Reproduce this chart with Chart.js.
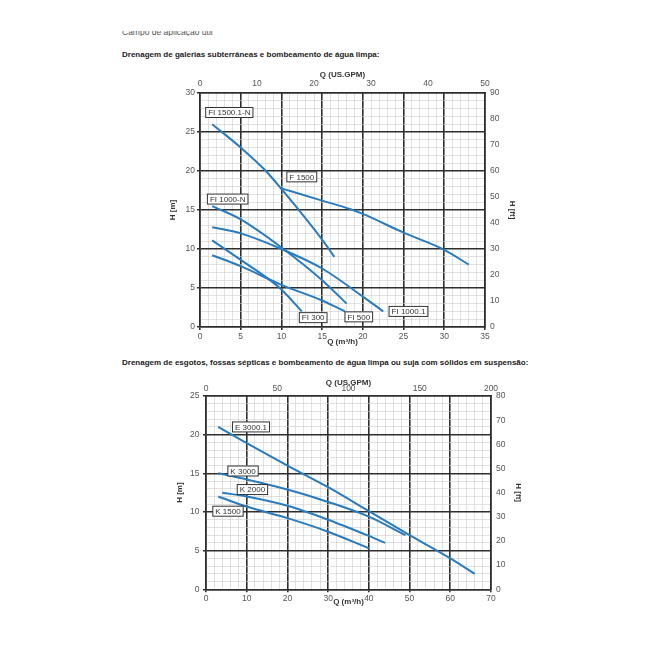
<!DOCTYPE html>
<html><head><meta charset="utf-8">
<script src="https://cdn.jsdelivr.net/npm/chart.js@4.4.1/dist/chart.umd.min.js"></script>
<style>
html,body{margin:0;padding:0;background:#fff;}
body{width:660px;height:660px;position:relative;overflow:hidden;font-family:"Liberation Sans",Arial,sans-serif;}
.t{position:absolute;left:122px;font-weight:bold;font-size:8px;line-height:10px;color:#222;white-space:nowrap;}
.cut{position:absolute;left:122px;top:31px;height:5px;overflow:hidden;font-size:8.5px;line-height:10px;color:#555;white-space:nowrap;}
.cut span{position:relative;top:-4px;}
canvas{position:absolute;}
</style></head><body>
<div class="cut"><span>Campo de aplicação útil</span></div>
<div class="t" style="top:50px">Drenagem de galerias subterrâneas e bombeamento de água limpa:</div>
<div class="t" style="top:358px">Drenagem de esgotos, fossas sépticas e bombeamento de água limpa ou suja com sólidos em suspensão:</div>
<canvas id="c1" width="400" height="290" style="left:130px;top:60px"></canvas>
<canvas id="c2" width="400" height="245" style="left:130px;top:370px"></canvas>
<script>
// ---- Chart 1: Drenagem de galerias (Q m³/h, H m) ----
const q_FI1500_1N = [1.5, 5, 8, 10, 15, 16.5];
const h_FI1500_1N = [26, 23, 20.1, 17.7, 11.2, 9];
const q_F1500 = [9.9, 15, 18.5, 20, 25, 30, 33];
const h_F1500 = [17.8, 16.2, 15.1, 14.5, 12.1, 9.9, 8];
const q_FI1000N = [1.5, 5, 10, 15, 18];
const h_FI1000N = [15.5, 13.8, 10.2, 6.0, 3.0];
const q_FI1000_1 = [1.5, 5, 10, 15, 20, 22.5];
const h_FI1000_1 = [12.8, 12.0, 10.0, 7.5, 3.9, 2.0];
const q_FI300 = [1.5, 5, 8.8, 10, 12.5];
const h_FI300 = [11.1, 8.6, 5.85, 4.8, 2.0];
const q_FI500 = [1.5, 5, 10, 15, 17.8];
const h_FI500 = [9.2, 7.8, 5.4, 3.4, 2.0];
const labels1 = ['FI 1500.1-N', 'F 1500', 'FI 1000-N', 'FI 300', 'FI 500', 'FI 1000.1'];
const labels1Q = [3.6, 12.5, 3.4, 13.9, 19.5, 25.6];
const labels1H = [27.5, 19.25, 16.4, 1.2, 1.3, 2.0];

// ---- Chart 2: Drenagem de esgotos ----
const q_E3000_1 = [3, 10, 20, 30, 40, 50, 60, 66];
const h_E3000_1 = [21, 18.9, 16.0, 13.2, 10.1, 7.0, 4.0, 2.0];
const q_K3000 = [3, 10, 20, 30, 40, 49];
const h_K3000 = [15, 14.2, 12.9, 11.3, 9.4, 7.0];
const q_K2000 = [4, 10, 20, 30, 40, 44];
const h_K2000 = [12.5, 12.0, 10.8, 9.0, 6.9, 6.0];
const q_K1500 = [3, 10, 20, 30, 40];
const h_K1500 = [12, 10.7, 9.2, 7.45, 5.3];
const labels2 = ['E 3000.1', 'K 3000', 'K 2000', 'K 1500'];
const labels2Q = [11.05, 9.1, 11.4, 5.4];
const labels2H = [21.0, 15.3, 12.9, 10.1];

const BLUE = '#2a7bbd';
const MAJ = '#2e2e2e';
const MIN = '#cccccc';
const FONT = '"Liberation Sans", Arial, sans-serif';
Chart.defaults.font.family = FONT;

function pts(q, h) { return q.map((v, i) => ({x: v, y: h[i]})); }
function ds(q, h) {
  return {data: pts(q, h), borderColor: BLUE, borderWidth: 2, pointRadius: 0,
          showLine: true, fill: false, cubicInterpolationMode: 'monotone'};
}

const boxLabels = {
  id: 'boxLabels',
  afterDatasetsDraw(chart, args, o) {
    const {ctx} = chart; const x = chart.scales.x, y = chart.scales.y;
    ctx.save();
    ctx.font = '8px ' + FONT;
    ctx.textAlign = 'center'; ctx.textBaseline = 'middle';
    o.text.forEach((t, i) => {
      const px = x.getPixelForValue(o.q[i]), py = y.getPixelForValue(o.h[i]);
      const w = ctx.measureText(t).width + 5, hh = 10;
      ctx.fillStyle = '#fff'; ctx.fillRect(px - w / 2, py - hh / 2, w, hh);
      ctx.strokeStyle = '#333'; ctx.lineWidth = 1; ctx.strokeRect(px - w / 2, py - hh / 2, w, hh);
      ctx.fillStyle = '#333'; ctx.fillText(t, px, py + 0.5);
    });
    ctx.restore();
  }
};

function mainScale(pos, min, max, step, major, size, tickPad, titleText, titlePad) {
  const isMaj = c => c.tick && Math.abs(c.tick.value / major - Math.round(c.tick.value / major)) < 1e-6;
  return {
    type: 'linear', position: pos, min: min, max: max,
    afterFit: s => { if (pos === 'left' || pos === 'right') s.width = size; else s.height = size; },
    ticks: {stepSize: step, autoSkip: false, maxRotation: 0, padding: tickPad, color: '#555',
            font: {size: 8.5}, callback: v => (Math.abs(v / major - Math.round(v / major)) < 1e-6 ? v : '')},
    grid: {color: c => isMaj(c) ? MAJ : MIN, lineWidth: c => isMaj(c) ? 1.6 : 0.6,
           tickLength: 3, tickColor: c => isMaj(c) ? MAJ : 'rgba(0,0,0,0)'},
    border: {display: true, color: MAJ, width: 1.6},
    title: {display: true, text: titleText, color: '#333', font: {size: 8, weight: 'bold'}, padding: titlePad}
  };
}
function sideScale(pos, min, max, step, size, tickPad, titleText, titlePad) {
  return {
    type: 'linear', position: pos, min: min, max: max,
    afterFit: s => { if (pos === 'left' || pos === 'right') s.width = size; else s.height = size; },
    ticks: {stepSize: step, autoSkip: false, maxRotation: 0, padding: tickPad, color: '#555', font: {size: 8.5}},
    grid: {display: false, drawOnChartArea: false, drawTicks: false},
    border: {display: true, color: MAJ, width: 1.6},
    title: {display: true, text: titleText, color: '#333', font: {size: 8, weight: 'bold'}, padding: titlePad}
  };
}

new Chart(document.getElementById('c1'), {
  type: 'scatter',
  data: {datasets: [ds(q_FI1500_1N, h_FI1500_1N), ds(q_F1500, h_F1500), ds(q_FI1000N, h_FI1000N),
                    ds(q_FI1000_1, h_FI1000_1), ds(q_FI300, h_FI300), ds(q_FI500, h_FI500)]},
  options: {
    responsive: false, animation: false, layout: {padding: 0},
    plugins: {legend: {display: false}, tooltip: {enabled: false},
              boxLabels: {text: labels1, q: labels1Q, h: labels1H}},
    scales: {
      x: mainScale('bottom', 0, 35, 1, 5, 23, 2, 'Q (m³/h)', {top: 0, bottom: 3}),
      y: mainScale('left', 0, 30, 1, 5, 70, 2, 'H [m]', {top: 38, bottom: 0}),
      x2: sideScale('top', 0, 50, 10, 33, 4, 'Q (US.GPM)', {top: 10, bottom: 0}),
      y2: sideScale('right', 0, 90, 10, 45, 5, 'H [ft]', {top: 13, bottom: 0})
    }
  },
  plugins: [boxLabels]
});

new Chart(document.getElementById('c2'), {
  type: 'scatter',
  data: {datasets: [ds(q_E3000_1, h_E3000_1), ds(q_K3000, h_K3000), ds(q_K2000, h_K2000), ds(q_K1500, h_K1500)]},
  options: {
    responsive: false, animation: false, layout: {padding: 0},
    plugins: {legend: {display: false}, tooltip: {enabled: false},
              boxLabels: {text: labels2, q: labels2Q, h: labels2H}},
    scales: {
      x: mainScale('bottom', 0, 70, 2, 10, 25.7, 1, 'Q (m³/h)', {top: 0, bottom: 8}),
      y: mainScale('left', 0, 25, 1, 5, 76, 3.5, 'H [m]', {top: 45, bottom: 0}),
      x2: sideScale('top', 0, 200, 50, 26, 2, 'Q (US.GPM)', {top: 8, bottom: 0}),
      y2: sideScale('right', 0, 80, 10, 39, 5, 'H [ft]', {top: 7, bottom: 0})
    }
  },
  plugins: [boxLabels]
});
</script>
</body></html>
